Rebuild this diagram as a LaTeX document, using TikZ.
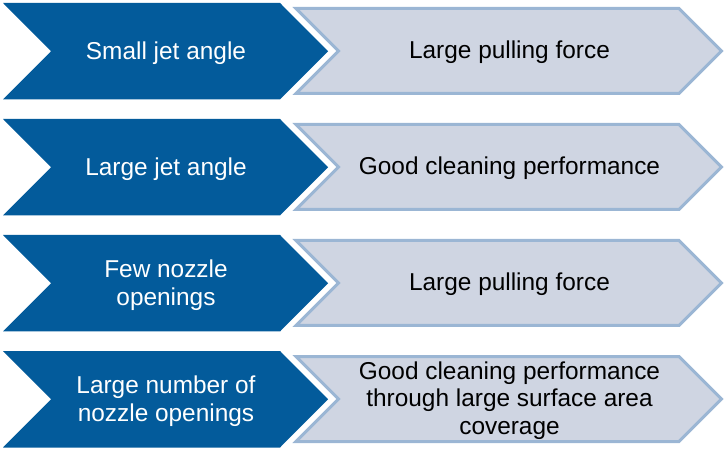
\documentclass[tikz,border=0pt]{standalone}
\usepackage{fontspec}
\setmainfont{Liberation Sans}
\definecolor{darkblue}{RGB}{3,91,155}
\definecolor{lightfill}{RGB}{207,213,226}
\definecolor{lightedge}{RGB}{155,182,212}
\begin{document}
\begin{tikzpicture}[x=1bp,y=-1bp,
  darkchev/.style={fill=darkblue,draw=none},
  lightchev/.style={fill=lightfill,draw=lightedge,line width=3bp,line join=miter},
  darktext/.style={text=white,font=\fontsize{24.5}{27.5}\selectfont,align=center,inner sep=0pt},
  lighttext/.style={text=black,font=\fontsize{24.5}{27.5}\selectfont,align=center,inner sep=0pt}]
\useasboundingbox (0,0) rectangle (726,450);
\foreach \i/\lt/\rt in {0/{Small jet angle}/{Large pulling force},
  1/{Large jet angle}/{Good cleaning performance},
  2/{Few nozzle\\openings}/{Large pulling force},
  3/{Large number of\\nozzle openings}/{Good cleaning performance\\through large surface area\\coverage}}{
  \pgfmathsetmacro\y{3+116*\i}
  \fill[darkchev] (3,\y) -- (280,\y) -- (328,\y+48.25) -- (280,\y+96.5) -- (3,\y+96.5) -- (51,\y+48.25) -- cycle;
  \draw[lightchev] (296,\y+5.5) -- (679,\y+5.5) -- (721.5,\y+48) -- (679,\y+90.5) -- (296,\y+90.5) -- (338.5,\y+48) -- cycle;
  \node[darktext] (L\i) at (166,\y+50) {\lt};
  \node[lighttext] (R\i) at (509.5,\y+49.5) {\rt};
}
\end{tikzpicture}
\end{document}
